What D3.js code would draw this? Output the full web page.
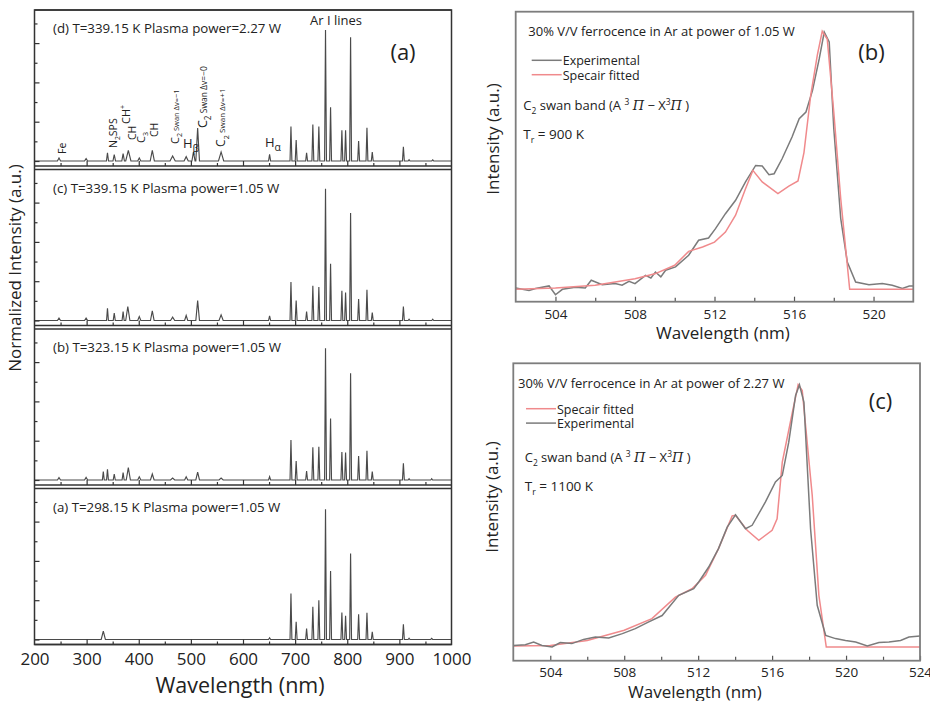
<!DOCTYPE html>
<html>
<head>
<meta charset="utf-8">
<script src="https://cdn.jsdelivr.net/npm/d3@7"></script>
<style>
  body { margin: 0; background: #fff; }
  text { font-family: "Open Sans", sans-serif; fill: #222; }
</style>
</head>
<body>
<svg id="chart" width="930" height="701"></svg>
<script>
// ---- data: left panel, emission lines [wavelength nm, normalized intensity, half width nm] ----
const spectrumD = [
  [247, 0.023, 3], [299, 0.018, 3], [340, 0.063, 2], [353, 0.048, 2.5], [370, 0.056, 2.5],
  [380, 0.081, 5], [401, 0.023, 3], [426, 0.081, 4], [465, 0.038, 5], [491, 0.033, 4],
  [505, 0.069, 3], [513, 0.251, 3.5], [558, 0.069, 5], [651, 0.051, 2],
  [692, 0.264], [702, 0.16], [722, 0.063], [734, 0.279], [745.5, 0.264], [758.3, 1.0],
  [768, 0.411], [789.7, 0.234], [796.8, 0.234], [806.4, 0.944], [821.8, 0.152],
  [837.8, 0.254], [848, 0.069], [907.7, 0.109], [918.6, 0.01], [964, 0.008]
];
const spectrumC = [
  [247, 0.018, 3], [299, 0.018, 3], [340, 0.094, 1.8], [353, 0.056, 2], [370, 0.069, 2],
  [379, 0.107, 4], [401, 0.03, 3], [426, 0.074, 3.5], [465, 0.026, 4], [491, 0.038, 3],
  [513, 0.153, 3.5], [558, 0.043, 4], [651, 0.036, 2],
  [692, 0.293], [702, 0.153], [722, 0.069], [734, 0.265], [745.5, 0.255], [758.3, 1.005],
  [768, 0.434], [789.7, 0.227], [796.8, 0.214], [806.4, 0.821], [821.8, 0.163],
  [837.8, 0.235], [848, 0.061], [907.7, 0.107], [918.6, 0.01], [964, 0.01]
];
const spectrumB = [
  [247, 0.018, 3], [299, 0.02, 3], [332, 0.064, 1.8], [340, 0.081, 1.8], [353, 0.046, 2],
  [370, 0.056, 2], [380, 0.094, 4], [401, 0.025, 3], [426, 0.046, 3.5], [465, 0.015, 4],
  [491, 0.025, 3], [513, 0.061, 3.5], [558, 0.015, 4], [651, 0.025, 2],
  [692, 0.305], [702, 0.145], [722, 0.069], [734, 0.25], [745.5, 0.254], [758.3, 1.005],
  [768, 0.47], [789.7, 0.214], [796.8, 0.209], [806.4, 0.814], [821.8, 0.183],
  [837.8, 0.224], [848, 0.064], [907.7, 0.127], [918.6, 0.01], [962, 0.01]
];
const spectrumA = [
  [332, 0.064, 4], [651, 0.013, 2],
  [692, 0.351], [702, 0.135], [722, 0.084], [734, 0.249], [745.5, 0.3], [758.3, 0.995],
  [768, 0.522], [789.7, 0.206], [796.8, 0.181], [806.4, 0.656], [821.8, 0.193],
  [837.8, 0.204], [848, 0.059], [907.7, 0.117], [918.6, 0.01], [962, 0.008]
];
const panelLabels = [
  "(d) T=339.15 K Plasma power=2.27 W",
  "(c) T=339.15 K Plasma power=1.05 W",
  "(b) T=323.15 K Plasma power=1.05 W",
  "(a) T=298.15 K Plasma power=1.05 W"
];
const leftXTicks = [200, 300, 400, 500, 600, 700, 800, 900, 1000];
const leftXMinor = [250, 350, 450, 550, 650, 750, 850, 950];
const leftYMajor = [0, 0.3, 0.6, 0.9];
const leftYMinor = [0.15, 0.45, 0.75, 1.05];

// ---- data: right panels, C2 swan band [wavelength nm, normalized intensity] ----
const bExperimental = [
  [502, 0.005], [502.67, -0.005], [503, 0.003], [503.68, 0.013], [504, -0.021], [504.35, 0],
  [505, 0.008], [505.5, 0.005], [505.8, 0.035], [506.35, 0.018], [507, 0.022], [507.35, 0.016],
  [507.7, 0.031], [508, 0.022], [508.53, 0.054], [508.8, 0.044], [509.03, 0.067], [509.3, 0.048],
  [509.54, 0.074], [510.04, 0.087], [510.7, 0.132], [511.2, 0.19], [511.7, 0.199], [512.05, 0.235],
  [512.55, 0.293], [513.06, 0.345], [513.56, 0.416], [514.07, 0.48], [514.4, 0.478], [514.74, 0.444],
  [515, 0.448], [515.4, 0.506], [515.9, 0.59], [516.26, 0.661], [516.6, 0.687], [516.93, 0.771],
  [517.27, 0.894], [517.52, 0.997], [517.77, 0.959], [518, 0.623], [518.35, 0.274], [518.68, 0.106],
  [519.1, 0.028], [519.77, 0.018], [520.44, 0.022], [520.94, 0.016], [521.45, 0.003], [521.8, 0.013],
  [522, 0.013]
];
const bFitted = [
  [502, 0], [504, 0.005], [506, 0.016], [508, 0.041], [509, 0.06], [510, 0.093], [510.7, 0.147],
  [511.4, 0.164], [512, 0.183], [512.55, 0.222], [513.06, 0.287], [513.56, 0.39], [513.93, 0.461],
  [514.4, 0.416], [515.19, 0.371], [515.74, 0.4], [516.2, 0.42], [516.5, 0.53], [516.84, 0.752],
  [517.17, 0.907], [517.42, 1.0], [517.67, 0.97], [518, 0.687], [518.35, 0.351], [518.8, 0], [522, 0]
];
const cExperimental = [
  [502, 0.006], [502.65, 0.009], [503.1, 0.019], [503.55, 0.006], [504.1, 0], [504.54, 0.017],
  [505.17, 0.013], [505.8, 0.029], [506.44, 0.038], [507.16, 0.034], [507.9, 0.051], [508.6, 0.07],
  [509.3, 0.095], [510.05, 0.12], [510.95, 0.197], [511.76, 0.222], [512.03, 0.248], [512.57, 0.305],
  [513.1, 0.375], [513.57, 0.457], [514.02, 0.504], [514.56, 0.451], [514.92, 0.464], [515.64, 0.553],
  [516.18, 0.629], [516.55, 0.654], [516.9, 0.781], [517.27, 0.959], [517.48, 1.0], [517.72, 0.934],
  [518.08, 0.451], [518.44, 0.159], [518.9, 0.044], [519.43, 0.032], [519.97, 0.025], [520.52, 0.019],
  [521.15, 0.004], [521.78, 0.017], [522.32, 0.019], [522.95, 0.025], [523.4, 0.038], [524, 0.042]
];
const cFitted = [
  [502, 0.004], [504, 0.006], [506, 0.025], [508, 0.064], [509.5, 0.108], [510.77, 0.19],
  [511.67, 0.222], [512.4, 0.273], [513.1, 0.375], [513.84, 0.5], [514.02, 0.502], [514.65, 0.445],
  [515.28, 0.407], [516, 0.445], [516.27, 0.489], [516.55, 0.705], [517.1, 0.896], [517.41, 1.0],
  [517.63, 0.978], [518.17, 0.578], [518.53, 0.197], [518.93, 0], [524, 0]
];
const bTicks = [504, 508, 512, 516, 520];
const bMinor = [506, 510, 514, 518];
const cTicks = [504, 508, 512, 516, 520, 524];
const cMinor = [506, 510, 514, 518, 522];

const grayLine = "#7b7b7b";
const redLine = "#f08a8c";
const ink = "#222";

const svg = d3.select("#chart");

// draws text made of pieces; each piece may be sub/superscript, italic serif
function richText(g, parts, size) {
  const t = g.append("text").attr("font-size", size).attr("fill", ink);
  let shift = 0;
  parts.forEach(p => {
    const o = typeof p === "string" ? { t: p } : p;
    const want = o.sub ? size * 0.3 : o.sup ? -size * 0.4 : 0;
    const ts = t.append("tspan").text(o.t).attr("dy", want - shift).attr("fill", ink);
    shift = want;
    if (o.sub || o.sup) ts.attr("font-size", size * (o.scale || 0.65));
    if (o.size) ts.attr("font-size", o.size);
    if (o.italic) ts.attr("font-style", "italic").attr("font-family", "'DejaVu Serif', serif");
  });
  return t;
}

// ---------------- left panel ----------------
const xL = d3.scaleLinear().domain([200, 1000]).range([34.5, 451.5]);
const panelTops = [10, 169.5, 329, 488.5];
const panelH = 156;
const spectra = [spectrumD, spectrumC, spectrumB, spectrumA];

function tracePoints(peaks) {
  const pts = [[200, 0]];
  peaks.forEach(p => {
    const w = p[2] || 1.8;
    pts.push([p[0] - w, 0], [p[0], p[1]], [p[0] + w, 0]);
  });
  pts.push([1000, 0]);
  return pts;
}

spectra.forEach((peaks, i) => {
  const top = panelTops[i], bottom = top + panelH;
  const y = d3.scaleLinear().domain([0, 1]).range([bottom - 5, bottom - 136]);
  const g = svg.append("g");

  g.append("path")
    .datum(tracePoints(peaks))
    .attr("fill", "none")
    .attr("stroke", "#4a4a4a")
    .attr("stroke-width", 1.15)
    .attr("d", d3.line().x(d => xL(d[0])).y(d => y(d[1])));

  // bottom ticks, pointing up
  const ax1 = g.append("g").attr("transform", `translate(0,${bottom})`)
    .call(d3.axisBottom(xL).tickValues(leftXTicks.slice(1, -1)).tickSize(-5).tickFormat(""));
  const ax2 = g.append("g").attr("transform", `translate(0,${bottom})`)
    .call(d3.axisBottom(xL).tickValues(leftXMinor).tickSize(-3).tickFormat(""));
  // left ticks, pointing right
  const ay1 = g.append("g").attr("transform", `translate(${xL(200)},0)`)
    .call(d3.axisLeft(y).tickValues(leftYMajor).tickSize(-5).tickFormat(""));
  const ay2 = g.append("g").attr("transform", `translate(${xL(200)},0)`)
    .call(d3.axisLeft(y).tickValues(leftYMinor).tickSize(-3).tickFormat(""));
  [ax1, ax2, ay1, ay2].forEach(a => {
    a.select(".domain").remove();
    a.selectAll("line").attr("stroke", "#333").attr("stroke-width", 1.2);
  });

  g.append("line").attr("x1", xL(200)).attr("x2", xL(1000))
    .attr("y1", bottom).attr("y2", bottom).attr("stroke", "#333").attr("stroke-width", 1.5);
  g.append("line").attr("x1", xL(200)).attr("x2", xL(1000))
    .attr("y1", top).attr("y2", top).attr("stroke", "#333").attr("stroke-width", 1.5);

  g.append("text").attr("x", 53).attr("y", top + 23).attr("font-size", 13.3)
    .attr("fill", ink).text(panelLabels[i]);
});

// outer frame sides
svg.append("rect").attr("x", xL(200)).attr("y", panelTops[0])
  .attr("width", xL(1000) - xL(200)).attr("height", panelTops[3] + panelH - panelTops[0])
  .attr("fill", "none").attr("stroke", "#333").attr("stroke-width", 1.5);

// x tick labels for left panel
const xLab = svg.append("g").attr("transform", `translate(0,${panelTops[3] + panelH})`)
  .call(d3.axisBottom(xL).tickValues(leftXTicks).tickSize(0).tickPadding(8.5).tickFormat(d3.format("d")));
xLab.select(".domain").remove();
xLab.selectAll("text").attr("font-size", 17).attr("font-family", "'Open Sans', sans-serif").attr("fill", ink);

svg.append("text").attr("x", 240).attr("y", 693).attr("text-anchor", "middle")
  .attr("font-size", 21.5).attr("fill", ink).text("Wavelength (nm)");
svg.append("text").attr("transform", "translate(21,268) rotate(-90)").attr("text-anchor", "middle")
  .attr("font-size", 17).attr("fill", ink).text("Normalized Intensity (a.u.)");

svg.append("text").attr("x", 310).attr("y", 25).attr("font-size", 13).attr("fill", ink).text("Ar I lines");
svg.append("text").attr("x", 403).attr("y", 60).attr("text-anchor", "middle")
  .attr("font-size", 22).attr("fill", ink).text("(a)");

// species annotations on (d)
const rot = (x, y) => svg.append("g").attr("transform", `translate(${x},${y}) rotate(-90)`);
richText(rot(66, 154), ["Fe"], 10.5);
richText(rot(117, 148), ["N", { t: "2", sub: true }, "SPS"], 10.5);
richText(rot(129.5, 124), ["CH", { t: "+", sup: true }], 11);
richText(rot(136, 140), ["CH"], 10.5);
richText(rot(145, 143), ["C", { t: "3", sub: true }], 11);
richText(rot(157.5, 137), ["CH"], 10.5);
richText(rot(179, 144), ["C", { t: "2", sub: true }, { t: " Swan Δv=−1", size: 7.5 }], 11);
richText(rot(207, 128), ["C", { t: "2", sub: true }, { t: " Swan Δv=−0", size: 8.5 }], 12.5);
richText(rot(225, 147), ["C", { t: "2", sub: true }, { t: " Swan Δv=+1", size: 8 }], 12);
richText(svg.append("g").attr("transform", "translate(183,148)"), ["H", { t: "β", sub: true, scale: 0.8 }], 13);
richText(svg.append("g").attr("transform", "translate(265,147)"), ["H", { t: "α", sub: true, scale: 0.8 }], 13);

// ---------------- right panels ----------------
function swanPanel(cfg) {
  const x = d3.scaleLinear().domain(cfg.domain).range([cfg.left, cfg.right]);
  const y = d3.scaleLinear().domain([0, 1]).range([cfg.base, cfg.peak]);
  const g = svg.append("g");
  const line = d3.line().x(d => x(d[0])).y(d => y(d[1]));

  cfg.series.forEach(s => {
    g.append("path").datum(s.data).attr("fill", "none")
      .attr("stroke", s.color).attr("stroke-width", 1.5).attr("d", line);
  });

  const a1 = g.append("g").attr("transform", `translate(0,${cfg.bottom})`)
    .call(d3.axisBottom(x).tickValues(cfg.ticks).tickSize(-5).tickPadding(cfg.pad).tickFormat(d3.format("d")));
  const a2 = g.append("g").attr("transform", `translate(0,${cfg.bottom})`)
    .call(d3.axisBottom(x).tickValues(cfg.minor).tickSize(-4).tickFormat(""));
  [a1, a2].forEach(a => {
    a.select(".domain").remove();
    a.selectAll("line").attr("stroke", "#555").attr("stroke-width", 1.2);
  });
  a1.selectAll("text").attr("font-size", 13.5).attr("font-family", "'Open Sans', sans-serif").attr("fill", ink);

  g.append("rect").attr("x", cfg.left).attr("y", cfg.top)
    .attr("width", cfg.right - cfg.left).attr("height", cfg.bottom - cfg.top)
    .attr("fill", "none").attr("stroke", "#7d7d7d").attr("stroke-width", 1.8);

  g.append("text").attr("x", cfg.titleX).attr("y", cfg.top + 24.5).attr("font-size", 13)
    .attr("fill", ink).text(cfg.title);

  cfg.series.forEach((s, k) => {
    const ly = cfg.top + cfg.legendY + k * 14.4;
    g.append("line").attr("x1", cfg.legendX).attr("x2", cfg.legendX + 30)
      .attr("y1", ly).attr("y2", ly).attr("stroke", s.color).attr("stroke-width", 1.5);
  });
  cfg.legendOrder.forEach((s, k) => {
    g.append("text").attr("x", cfg.legendX + 31).attr("y", cfg.top + cfg.legendY + 5 + k * 14.4)
      .attr("font-size", 12.5).attr("fill", ink).text(s);
  });

  const band = g.append("g").attr("transform", `translate(${cfg.bandX},${cfg.top + cfg.bandY})`);
  richText(band, ["C", { t: "2", sub: true }, " swan band (A ", { t: "3", sup: true }, " ",
    { t: "Π", italic: true }, " − X", { t: "3", sup: true }, { t: "Π", italic: true }, " )"], 13);
  const tr = g.append("g").attr("transform", `translate(${cfg.bandX},${cfg.top + cfg.bandY + 29})`);
  richText(tr, ["T", { t: "r", sub: true }, " = " + cfg.temp], 13.5);

  g.append("text").attr("x", cfg.tagX).attr("y", cfg.top + cfg.tagY).attr("text-anchor", "middle")
    .attr("font-size", 22).attr("fill", ink).text(cfg.tag);
  g.append("text").attr("x", cfg.xLabelX).attr("y", cfg.xLabelY).attr("text-anchor", "middle")
    .attr("font-size", 17).attr("fill", ink).text("Wavelength (nm)");
  g.append("text").attr("transform", `translate(${cfg.yLabelX},${cfg.yLabelY}) rotate(-90)`)
    .attr("text-anchor", "middle").attr("font-size", 17).attr("fill", ink).text("Intensity (a.u.)");
}

swanPanel({
  domain: [502, 522], left: 515.7, right: 913.3, top: 11.7, bottom: 301.7,
  base: 289.3, peak: 31.3, ticks: bTicks, minor: bMinor, pad: 7.5,
  series: [{ data: bExperimental, color: grayLine }, { data: bFitted, color: redLine }],
  legendOrder: ["Experimental", "Specair fitted"],
  title: "30% V/V ferrocence in Ar at power of 1.05 W", titleX: 528.3,
  legendX: 531.7, legendY: 48.6, bandX: 523.3, bandY: 98.6, temp: "900 K",
  tag: "(b)", tagX: 871.5, tagY: 48.6,
  xLabelX: 723, xLabelY: 339, yLabelX: 499, yLabelY: 139
});

swanPanel({
  domain: [502, 524], left: 513.3, right: 920, top: 363.3, bottom: 660.7,
  base: 647, peak: 384.7, ticks: cTicks, minor: cMinor, pad: 6.5,
  series: [{ data: cFitted, color: redLine }, { data: cExperimental, color: grayLine }],
  legendOrder: ["Specair fitted", "Experimental"],
  title: "30% V/V ferrocence in Ar at power of 2.27 W", titleX: 518,
  legendX: 526, legendY: 45.4, bandX: 524.7, bandY: 98.7, temp: "1100 K",
  tag: "(c)", tagX: 880.5, tagY: 45.4,
  xLabelX: 695, xLabelY: 698, yLabelX: 498, yLabelY: 497
});
</script>
</body>
</html>
